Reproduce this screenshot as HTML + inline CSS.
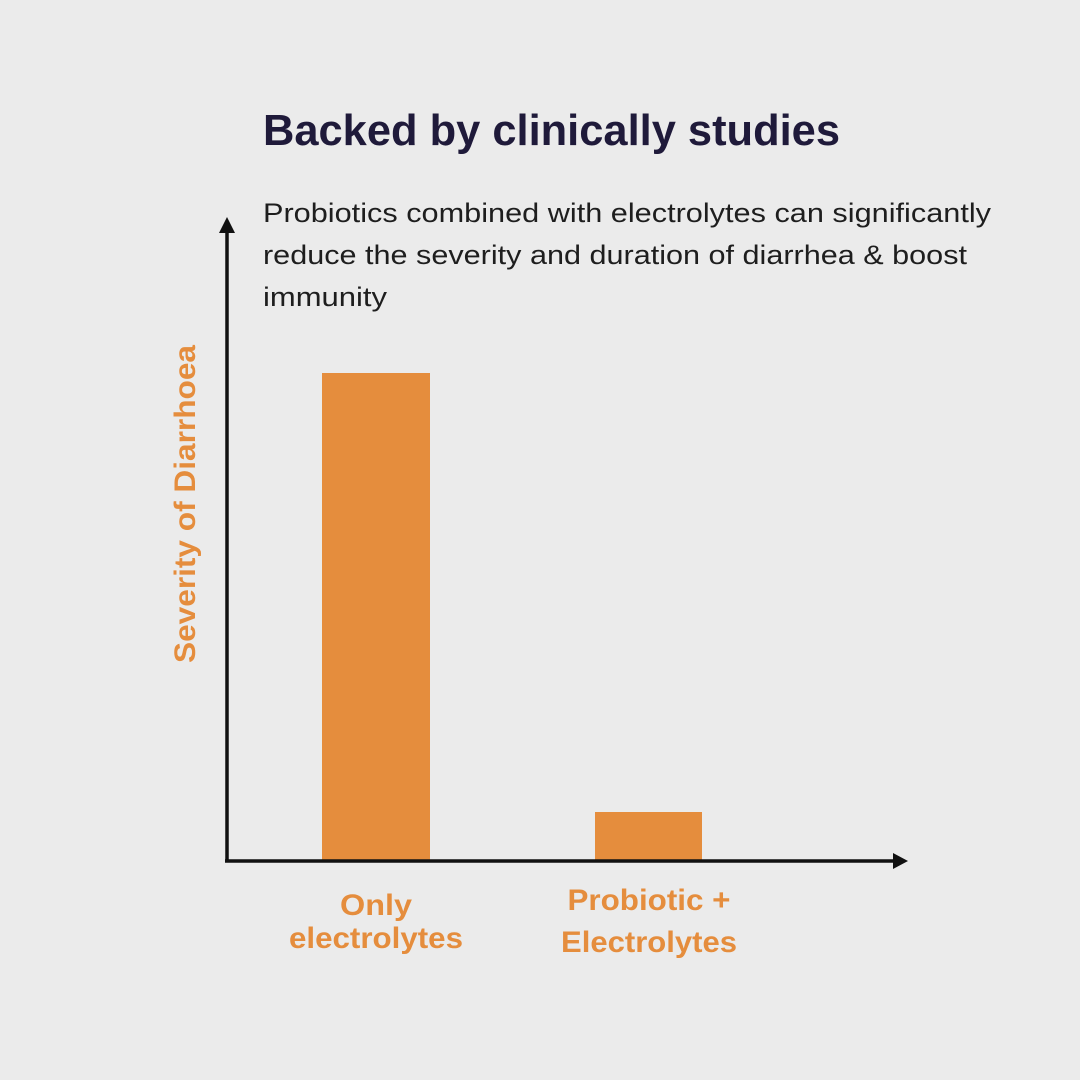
<!DOCTYPE html>
<html><head><style>html,body{margin:0;padding:0;background:#ebebeb;}svg{display:block}</style></head>
<body>
<svg width="1080" height="1080" viewBox="0 0 1080 1080" xmlns="http://www.w3.org/2000/svg" font-family="Liberation Sans, sans-serif">
<rect width="1080" height="1080" fill="#ebebeb"/>
<text x="263" y="145" font-size="44" font-weight="bold" fill="#1f1a3a" textLength="577" lengthAdjust="spacingAndGlyphs">Backed by clinically studies</text>
<g font-size="27" fill="#1e1e1e">
<text x="263" y="222" textLength="728" lengthAdjust="spacingAndGlyphs">Probiotics combined with electrolytes can significantly</text>
<text x="263" y="264" textLength="704" lengthAdjust="spacingAndGlyphs">reduce the severity and duration of diarrhea &amp; boost</text>
<text x="263" y="306" textLength="124" lengthAdjust="spacingAndGlyphs">immunity</text>
</g>
<rect x="322" y="373" width="108" height="489" fill="#e58d3d"/>
<rect x="595" y="812" width="107" height="50" fill="#e58d3d"/>
<line x1="227" y1="228" x2="227" y2="862" stroke="#111" stroke-width="3.5"/>
<polygon points="219,233 227,217 235,233" fill="#111"/>
<line x1="225" y1="861" x2="898" y2="861" stroke="#111" stroke-width="3.5"/>
<polygon points="893,853 908,861 893,869" fill="#111"/>
<text transform="translate(195,504) rotate(-90)" text-anchor="middle" font-size="30" font-weight="bold" fill="#e58d3d" textLength="318" lengthAdjust="spacingAndGlyphs">Severity of Diarrhoea</text>
<g font-size="30" font-weight="bold" fill="#e58d3d" text-anchor="middle">
<text x="376" y="915" textLength="72" lengthAdjust="spacingAndGlyphs">Only</text>
<text x="376" y="948" textLength="174" lengthAdjust="spacingAndGlyphs">electrolytes</text>
<text x="649" y="910" textLength="163" lengthAdjust="spacingAndGlyphs">Probiotic +</text>
<text x="649" y="952" textLength="176" lengthAdjust="spacingAndGlyphs">Electrolytes</text>
</g>
</svg>
</body></html>
